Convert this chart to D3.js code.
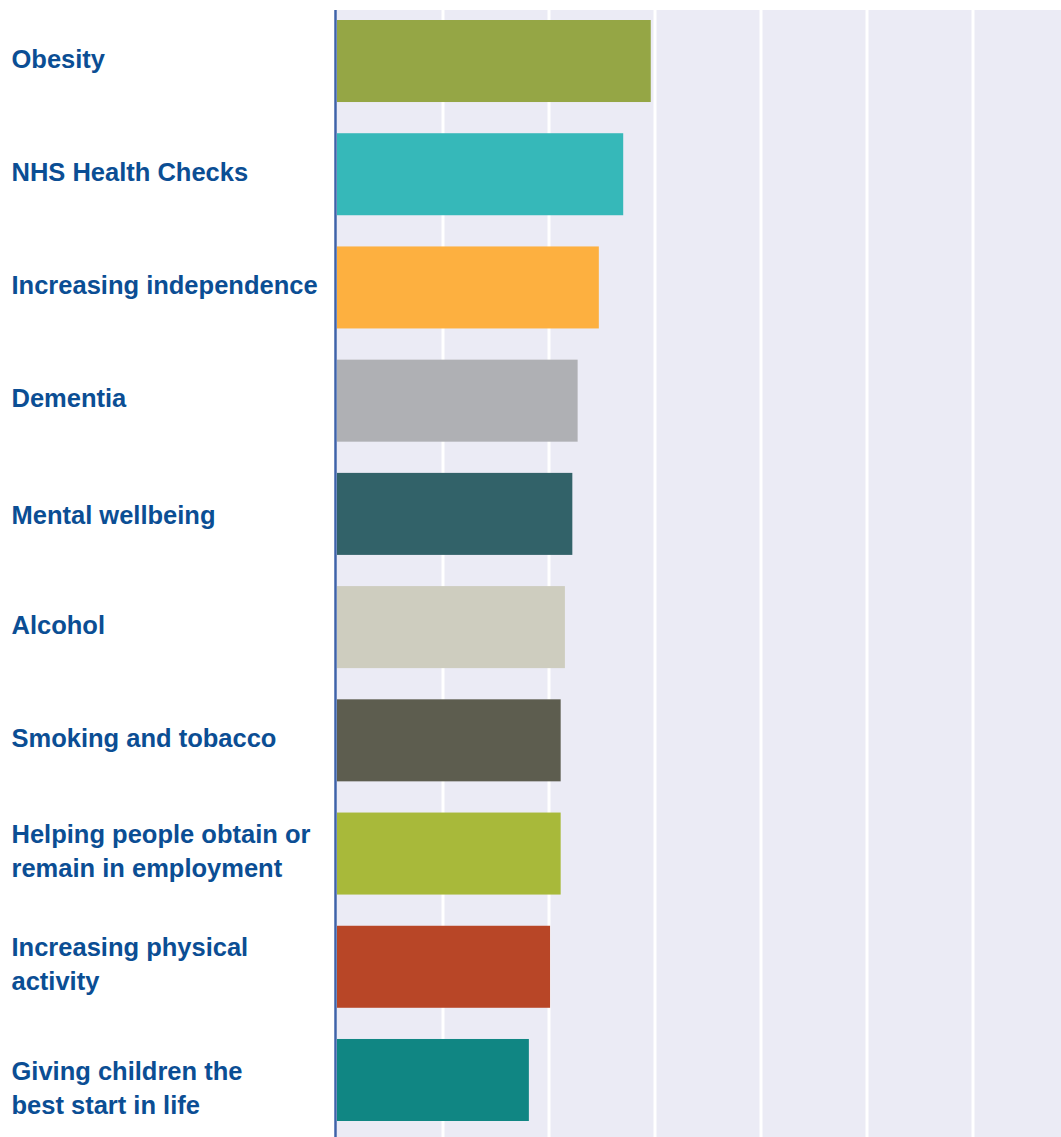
<!DOCTYPE html>
<html>
<head>
<meta charset="utf-8">
<script src="https://cdn.jsdelivr.net/npm/d3@7"></script>
<style>
  html, body { margin: 0; padding: 0; background: #ffffff; }
  svg { display: block; }
</style>
</head>
<body>
<svg id="chart" width="1061" height="1137"></svg>
<script>
const categories = [
  ["Obesity"],
  ["NHS Health Checks"],
  ["Increasing independence"],
  ["Dementia"],
  ["Mental wellbeing"],
  ["Alcohol"],
  ["Smoking and tobacco"],
  ["Helping people obtain or", "remain in employment"],
  ["Increasing physical", "activity"],
  ["Giving children the", "best start in life"]
];
const values = [29.6, 27.0, 24.7, 22.7, 22.2, 21.5, 21.1, 21.1, 20.1, 18.1];
const colors = ["#95a645", "#36b8b9", "#fdb040", "#afb0b4", "#326269",
                "#cecdbf", "#5d5d4f", "#a8b93a", "#b84627", "#108683"];
const gridTicks = [10, 20, 30, 40, 50, 60];

const svg = d3.select("#chart");
const W = 1061, H = 1137;
const plotLeft = 337, plotTop = 10, plotBottom = 1137;

const x = d3.scaleLinear().domain([0, 68.3]).range([plotLeft, W]);
const ids = categories.map((c, i) => i);
const y = d3.scaleBand().domain(ids).range([4.4, 1136.6])
  .paddingInner(0.2756).paddingOuter(0.1378);

// background
svg.append("rect")
  .attr("x", plotLeft).attr("y", plotTop)
  .attr("width", W - plotLeft).attr("height", plotBottom - plotTop)
  .attr("fill", "#ebebf5");

// gridlines
svg.append("g").selectAll("line").data(gridTicks).join("line")
  .attr("x1", d => x(d)).attr("x2", d => x(d))
  .attr("y1", plotTop).attr("y2", plotBottom)
  .attr("stroke", "#ffffff").attr("stroke-width", 3);

// bars
svg.append("g").selectAll("rect").data(ids).join("rect")
  .attr("x", x(0))
  .attr("y", i => y(i))
  .attr("width", i => x(values[i]) - x(0))
  .attr("height", y.bandwidth())
  .attr("fill", i => colors[i]);

// axis line
svg.append("line")
  .attr("x1", 335.5).attr("x2", 335.5)
  .attr("y1", plotTop).attr("y2", plotBottom)
  .attr("stroke", "#3e62a9").attr("stroke-width", 2.5);

// labels (small layout nudges to mimic the original's hand placement)
const lineH = 34;
const nudge = { 4: 4, 9: 11 };
const lab = svg.append("g").selectAll("text").data(ids).join("text")
  .attr("font-family", "Liberation Sans, Arial, sans-serif")
  .attr("font-weight", "bold")
  .attr("font-size", 25.5)
  .attr("fill", "#0b4e94");
lab.each(function(i) {
  const lines = categories[i];
  const cy = y(i) + y.bandwidth() / 2;
  const first = cy + 6.5 + (nudge[i] || 0) - (lines.length - 1) * lineH / 2;
  d3.select(this).selectAll("tspan").data(lines).join("tspan")
    .attr("x", 11.5)
    .attr("y", (d, k) => first + k * lineH)
    .text(d => d);
});
</script>
</body>
</html>
